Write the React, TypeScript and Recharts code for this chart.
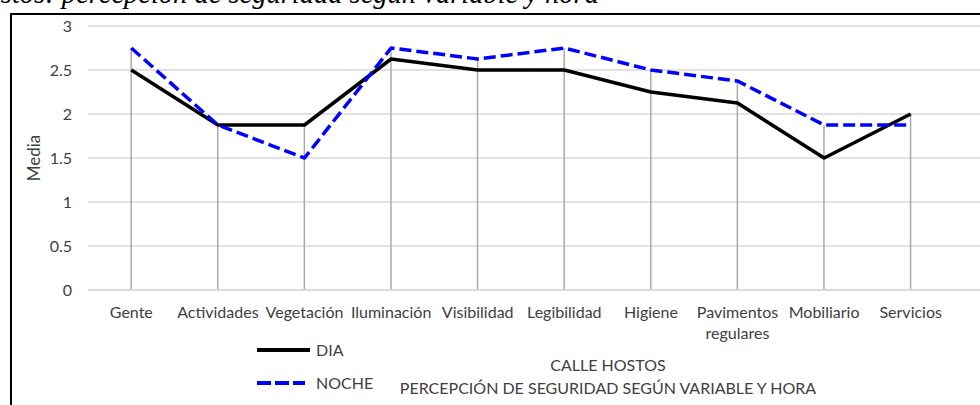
import { ComposedChart, Line, Bar, XAxis, YAxis, CartesianGrid, Legend, Label } from "recharts";

const categories = [
  "Gente",
  "Actividades",
  "Vegetación",
  "Iluminación",
  "Visibilidad",
  "Legibilidad",
  "Higiene",
  "Pavimentos regulares",
  "Mobiliario",
  "Servicios",
];
const dia = [2.5, 1.875, 1.875, 2.625, 2.5, 2.5, 2.25, 2.125, 1.5, 2];
const noche = [2.75, 1.875, 1.5, 2.75, 2.625, 2.75, 2.5, 2.375, 1.875, 1.875];
const yTicks = [0, 0.5, 1, 1.5, 2, 2.5, 3];

const data = categories.map((name, i) => ({
  name,
  DIA: dia[i],
  NOCHE: noche[i],
  drop: Math.max(dia[i], noche[i]),
}));

const FONT = "Lato, 'Liberation Sans', sans-serif";
const TEXT = "#404040";

// categories with two words break onto two lines, like Excel does
const XTick = (props: any) => {
  const { x, y, payload } = props;
  const words = String(payload.value).split(" ");
  return (
    <g transform={`translate(${x},${y})`}>
      {words.map((w, i) => (
        <text key={i} x={0} y={i * 21} dy={28} textAnchor="middle" fill={TEXT} fontSize={16} fontFamily={FONT}>
          {w}
        </text>
      ))}
    </g>
  );
};

// grey drop line from the highest point down to the axis
const DropLine = (props: any) => {
  const { x, y, width, height } = props;
  const cx = x + width / 2;
  return <line x1={cx} y1={y} x2={cx} y2={y + height} stroke="#aaaaaa" strokeWidth={1.5} />;
};

const renderLegend = (props: any) => {
  const { payload } = props;
  return (
    <svg width={130} height={50} style={{ overflow: "visible" }}>
      {payload.map((p: any, i: number) => {
        const cy = 12 + i * 33;
        const dashed = p.value === "NOCHE";
        return (
          <g key={p.value}>
            <line
              x1={0}
              y1={cy}
              x2={dashed ? 48 : 53}
              y2={cy}
              stroke={p.color}
              strokeWidth={4}
              strokeDasharray={dashed ? "14 4" : undefined}
            />
            <text x={59} y={cy} dy="0.35em" fill={TEXT} fontSize={16} fontFamily={FONT}>
              {p.value}
            </text>
          </g>
        );
      })}
    </svg>
  );
};

export default function App() {
  return (
    <div
      style={{
        position: "absolute",
        left: 0,
        top: 0,
        width: 980,
        height: 405,
        overflow: "hidden",
        background: "#fff",
      }}
    >
      <div
        style={{
          position: "absolute",
          left: -34,
          top: -20,
          whiteSpace: "nowrap",
          fontFamily: "'Liberation Serif', serif",
          fontStyle: "italic",
          fontSize: 28.5,
          lineHeight: "28.5px",
          color: "#000",
        }}
      >
        Hostos: percepción de seguridad según variable y hora
      </div>
      <div
        style={{
          position: "absolute",
          left: 10,
          top: 13,
          width: 1200,
          height: 600,
          borderLeft: "2px solid #000",
          borderTop: "2px solid #000",
          background: "#fff",
        }}
      />
      <div style={{ position: "absolute", left: 0, top: 0 }}>
        <ComposedChart width={1010} height={405} data={data} margin={{ top: 26, right: 0, bottom: 0, left: 0 }}>
          <CartesianGrid vertical={false} stroke="#d9d9d9" strokeWidth={1.5} />
          <XAxis
            dataKey="name"
            interval={0}
            tickLine={false}
            tickSize={0}
            tickMargin={0}
            axisLine={{ stroke: "#d9d9d9", strokeWidth: 1.5 }}
            padding={{ left: 0, right: 56 }}
            height={65}
            tick={<XTick />}
          />
          <YAxis
            domain={[0, 3]}
            ticks={yTicks}
            width={88}
            tickLine={false}
            axisLine={false}
            tickSize={0}
            tickMargin={16}
            tick={{ fill: TEXT, fontSize: 16, fontFamily: FONT }}
          >
            <Label
              content={({ viewBox }: any) => {
                const cx = 33;
                const cy = viewBox.y + viewBox.height / 2;
                return (
                  <text
                    x={cx}
                    y={cy}
                    transform={`rotate(-90 ${cx} ${cy})`}
                    textAnchor="middle"
                    dominantBaseline="central"
                    fill={TEXT}
                    fontSize={17}
                    fontFamily={FONT}
                  >
                    Media
                  </text>
                );
              }}
            />
          </YAxis>
          <Legend
            content={renderLegend}
            wrapperStyle={{ position: "absolute", left: 257, top: 338, width: 130, height: 50 }}
          />
          <Bar dataKey="drop" legendType="none" shape={<DropLine />} isAnimationActive={false} />
          <Line
            type="linear"
            dataKey="DIA"
            stroke="#000000"
            strokeWidth={3.5}
            strokeLinejoin="round"
            dot={false}
            activeDot={false}
            isAnimationActive={false}
          />
          <Line
            type="linear"
            dataKey="NOCHE"
            stroke="#0000ff"
            strokeWidth={3.5}
            strokeDasharray="12 5"
            strokeLinejoin="round"
            dot={false}
            activeDot={false}
            isAnimationActive={false}
          />
        </ComposedChart>
      </div>
      <div
        style={{
          position: "absolute",
          left: 308,
          top: 353,
          width: 600,
          textAlign: "center",
          fontFamily: FONT,
          fontSize: 16,
          lineHeight: "23px",
          color: TEXT,
        }}
      >
        CALLE HOSTOS
        <br />
        PERCEPCIÓN DE SEGURIDAD SEGÚN VARIABLE Y HORA
      </div>
    </div>
  );
}
